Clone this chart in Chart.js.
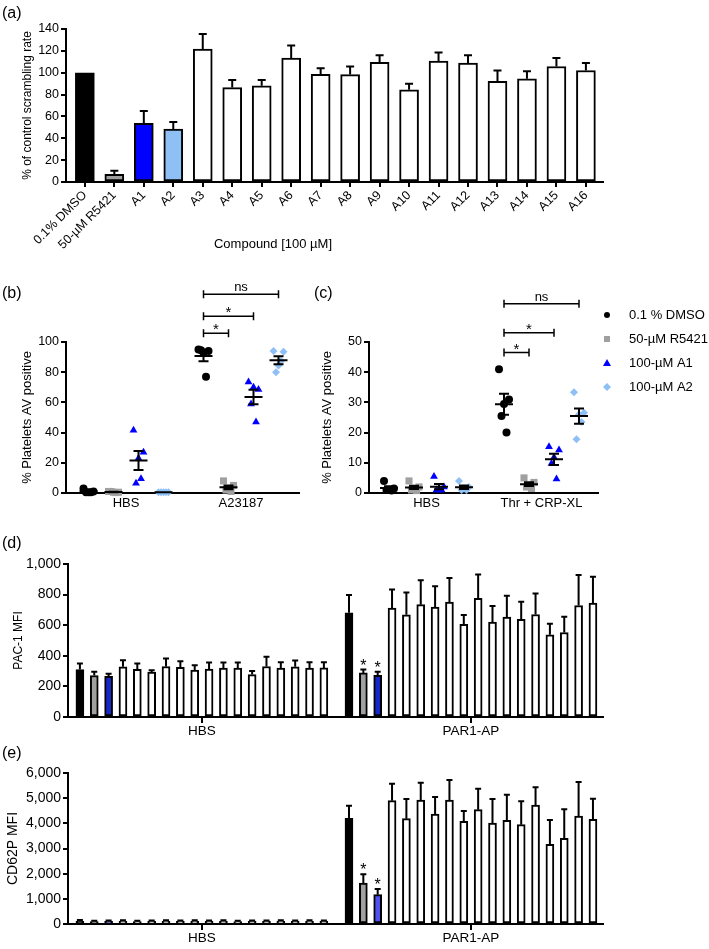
<!DOCTYPE html>
<html lang="en">
<head>
<meta charset="utf-8">
<title>Figura</title>
<script src="https://cdn.jsdelivr.net/npm/chart.js"></script>
<style>
  body { margin: 0; background: #fff; font-family: "Liberation Sans", Arial, sans-serif; }
  #figura { position: relative; width: 709px; height: 949px; overflow: hidden; }
  canvas { position: absolute; }
  .letra { position: absolute; font-size: 16px; line-height: 16px; color: #000; }
  .titulo { position: absolute; font-size: 13px; line-height: 13px; color: #000; white-space: nowrap; transform: translateX(-50%); }
</style>
</head>
<body>
<div id="figura">
  <canvas id="graficoA" width="709" height="262" style="left:0;top:0"></canvas>
  <canvas id="graficoB" width="340" height="235" style="left:0;top:280px"></canvas>
  <canvas id="graficoC" width="409" height="235" style="left:300px;top:280px"></canvas>
  <canvas id="graficoD" width="709" height="225" style="left:0;top:520px"></canvas>
  <canvas id="graficoE" width="709" height="204" style="left:0;top:745px"></canvas>
  <div class="letra" style="left:2px;top:5px">(a)</div>
  <div class="letra" style="left:2px;top:285px">(b)</div>
  <div class="letra" style="left:314px;top:285px">(c)</div>
  <div class="letra" style="left:2px;top:535px">(d)</div>
  <div class="letra" style="left:2px;top:745px">(e)</div>
  <div class="titulo" style="left:273px;top:237px">Compound [100 µM]</div>
</div>
<script>
/* Dados do painel (a) */
const compostos = ['0.1% DMSO', '50-µM R5421', 'A1', 'A2', 'A3', 'A4', 'A5', 'A6', 'A7', 'A8',
  'A9', 'A10', 'A11', 'A12', 'A13', 'A14', 'A15', 'A16'];
const taxaMedia = [100, 7, 53.6, 48.4, 121.6, 86.4, 88, 113.4, 98.6, 98.3, 109.4, 84.3, 110.6, 108.8, 92.2, 94.4, 105.7, 102];
const taxaErro = [0, 3.4, 11.4, 6.4, 13.8, 7, 5.4, 11.6, 5.4, 7.4, 6.6, 5.7, 8, 7.2, 9.8, 7, 7.7, 6.8];

/* Dados dos paineis (b) e (c): um vetor por tratamento, um sub-vetor por grupo */
const tratamentos = ['0.1 % DMSO', '50-µM R5421', '100-µM A1', '100-µM A2'];
const gruposB = ['HBS', 'A23187'];
const dmsoB = [[3, 1, 0.5, 0.5, 0.5], [95, 94, 93, 94.5, 77]];
const r5421B = [[1, 0.5, 0.5, 1, 0.3], [8, 5, 3, 2, 1]];
const a1B = [[41.5, 27, 23, 6.5, 9.5], [73.5, 68.5, 70, 59, 47]];
const a2B = [[0.5, 0.5, 0.5, 0.5, 0.5], [94, 93.5, 84.5, 80, 87.5]];

const gruposC = ['HBS', 'Thr + CRP-XL'];
const dmsoC = [[4, 1.5, 1, 1, 0.8], [41, 31, 29.5, 25.5, 20]];
const r5421C = [[4, 2, 1.5, 1, 0.8], [5, 3.5, 2.5, 2, 1.5]];
const a1C = [[5.5, 2, 1, 1, 1], [15.3, 14.2, 11.8, 9.8, 4.6]];
const a2C = [[4, 2, 1.5, 1, 1], [33.4, 26.6, 26, 17.8, 23.5]];

/* Dados dos paineis (d) e (e): DMSO, R5421, A1, A2..A16 */
const gruposBarras = ['HBS', 'PAR1-AP'];
const pac1HBS = [310, 271, 266, 328, 312, 293, 330, 325, 306, 314, 319, 319, 277, 330, 319, 328, 319, 321];
const pac1HBSErro = [39, 24, 16, 43, 37, 13, 52, 40, 32, 42, 37, 37, 24, 63, 39, 41, 39, 37];
const pac1PAR = [681, 288, 273, 712, 668, 734, 718, 751, 605, 775, 620, 653, 638, 670, 537, 552, 729, 745];
const pac1PARErro = [116, 22, 22, 122, 146, 159, 136, 157, 61, 157, 105, 140, 115, 138, 72, 103, 199, 172];
const cd62HBS = [110, 100, 105, 110, 100, 105, 110, 105, 110, 105, 110, 100, 105, 105, 110, 105, 110, 105];
const cd62HBSErro = [45, 30, 35, 35, 30, 30, 35, 30, 35, 30, 35, 30, 30, 30, 35, 30, 35, 30];
const cd62PAR = [4199, 1630, 1166, 4901, 4185, 4927, 4371, 4927, 4079, 4543, 4013, 4119, 3947, 4728, 3166, 3404, 4291, 4159];
const cd62PARErro = [503, 344, 225, 675, 782, 689, 675, 795, 411, 834, 954, 1020, 927, 702, 966, 1152, 1351, 821];
const significativos = [1, 2]; // R5421 e A1 no PAR1-AP

/* Configuração geral */
Chart.defaults.font.family = '"Liberation Sans", Arial, sans-serif';
Chart.defaults.color = '#000';
Chart.defaults.animation = false;
Chart.defaults.responsive = false;
Chart.defaults.plugins.legend.display = false;
Chart.defaults.plugins.tooltip.enabled = false;

const coresTrat = ['#000000', '#a0a0a0', '#0000ff', '#8fc0f5'];
const formasTrat = ['circle', 'rect', 'triangle', 'rectRot'];
const raiosTrat = [4, 5, 4.5, 4];
const espalha = [-0.2, 0.2, 0, -0.1, 0.1];

function eixoY(min, max, passo, largura, titulo, tamTitulo, recuo, tamFonte) {
  return {
    min: min, max: max,
    ticks: { stepSize: passo, padding: 2, font: { size: tamFonte },
      callback: v => v.toLocaleString('en-US') },
    grid: { drawOnChartArea: false, tickLength: 5, color: '#000', lineWidth: 2 },
    border: { color: '#000', width: 2 },
    title: { display: true, text: titulo, font: { size: tamTitulo }, padding: { top: recuo, bottom: 0 } },
    afterFit(escala) { escala.width = largura; }
  };
}

function eixoX(min, max, posicoes, rotulos, altura, tamFonte, rotacao, tamTick, folga) {
  return {
    type: 'linear', min: min, max: max, offset: false,
    afterBuildTicks(escala) { escala.ticks = posicoes.map(v => ({ value: v })); },
    ticks: { autoSkip: false, maxRotation: rotacao, minRotation: rotacao, padding: folga,
      font: { size: tamFonte },
      callback(v) { const k = posicoes.indexOf(v); return k >= 0 ? rotulos[k] : ''; } },
    grid: { drawOnChartArea: false, offset: false, drawTicks: tamTick > 0, tickLength: tamTick,
      color: '#000', lineWidth: 2 },
    border: { color: '#000', width: 2 },
    afterFit(escala) { escala.height = altura; }
  };
}

/* Plugin: barras de erro (só para cima) e asteriscos */
const barrasErro = {
  id: 'barrasErro',
  afterDatasetsDraw(chart, args, opcoes) {
    const ctx = chart.ctx, y = chart.scales.y;
    ctx.save();
    ctx.strokeStyle = '#000';
    ctx.fillStyle = '#000';
    ctx.lineWidth = 2;
    chart.data.datasets.forEach((ds, d) => {
      chart.getDatasetMeta(d).data.forEach((barra, i) => {
        const erro = ds.erros[i];
        if (!erro) return;
        const yErro = y.getPixelForValue(ds.data[i].y + erro);
        ctx.beginPath();
        ctx.moveTo(barra.x, barra.y);
        ctx.lineTo(barra.x, yErro);
        ctx.moveTo(barra.x - opcoes.capa, yErro);
        ctx.lineTo(barra.x + opcoes.capa, yErro);
        ctx.stroke();
        if (ds.estrelas && ds.estrelas.includes(i)) {
          ctx.font = '16px "Liberation Sans", Arial, sans-serif';
          ctx.textAlign = 'center';
          ctx.textBaseline = 'alphabetic';
          ctx.fillText('*', barra.x, yErro + 1);
        }
      });
    });
    ctx.restore();
  }
};

/* Plugin: média ± EPM e colchetes de significância */
const mediaErro = {
  id: 'mediaErro',
  afterDatasetsDraw(chart, args, opcoes) {
    const ctx = chart.ctx, x = chart.scales.x, y = chart.scales.y;
    ctx.save();
    ctx.strokeStyle = '#000';
    ctx.fillStyle = '#000';
    ctx.lineWidth = 2;
    chart.data.datasets.forEach((ds, d) => {
      ds.valores.forEach((vals, g) => {
        const n = vals.length;
        const media = vals.reduce((a, b) => a + b, 0) / n;
        const dp = Math.sqrt(vals.reduce((a, b) => a + (b - media) ** 2, 0) / (n - 1));
        const epm = dp / Math.sqrt(n);
        const px = x.getPixelForValue(opcoes.inicio[g] + d);
        const yM = y.getPixelForValue(media);
        const yA = y.getPixelForValue(media + epm);
        const yB = y.getPixelForValue(Math.max(media - epm, 0));
        ctx.beginPath();
        ctx.moveTo(px - 9, yM); ctx.lineTo(px + 9, yM);
        ctx.moveTo(px, yA); ctx.lineTo(px, yB);
        ctx.moveTo(px - 5, yA); ctx.lineTo(px + 5, yA);
        ctx.moveTo(px - 5, yB); ctx.lineTo(px + 5, yB);
        ctx.stroke();
      });
    });
    /* colchetes */
    ctx.lineWidth = 1.5;
    ctx.textAlign = 'center';
    ctx.textBaseline = 'alphabetic';
    opcoes.colchetes.forEach(c => {
      const x1 = x.getPixelForValue(opcoes.inicio[c.grupo] + c.de);
      const x2 = x.getPixelForValue(opcoes.inicio[c.grupo] + c.ate);
      const yc = y.getPixelForValue(c.nivel);
      ctx.beginPath();
      ctx.moveTo(x1, yc - 4); ctx.lineTo(x1, yc + 4);
      ctx.moveTo(x2, yc - 4); ctx.lineTo(x2, yc + 4);
      ctx.moveTo(x1, yc); ctx.lineTo(x2, yc);
      ctx.stroke();
      ctx.font = (c.texto === '*' ? '15px' : '13px') + ' "Liberation Sans", Arial, sans-serif';
      ctx.fillText(c.texto, (x1 + x2) / 2, c.texto === '*' ? yc + 1 : yc - 3);
    });
    ctx.restore();
  }
};

/* Plugin: legenda do painel (c) */
const legendaLateral = {
  id: 'legendaLateral',
  afterDraw(chart, args, opcoes) {
    const ctx = chart.ctx;
    ctx.save();
    ctx.font = '13px "Liberation Sans", Arial, sans-serif';
    ctx.textAlign = 'left';
    ctx.textBaseline = 'middle';
    chart.data.datasets.forEach((ds, d) => {
      const yl = opcoes.topo + d * opcoes.passo;
      const xl = opcoes.esquerda;
      ctx.fillStyle = ds.backgroundColor;
      ctx.beginPath();
      if (ds.pointStyle === 'circle') ctx.arc(xl, yl, 3, 0, 2 * Math.PI);
      else if (ds.pointStyle === 'rect') ctx.rect(xl - 3, yl - 3, 6, 6);
      else if (ds.pointStyle === 'triangle') { ctx.moveTo(xl, yl - 4); ctx.lineTo(xl + 4, yl + 3); ctx.lineTo(xl - 4, yl + 3); ctx.closePath(); }
      else { ctx.moveTo(xl, yl - 4); ctx.lineTo(xl + 4, yl); ctx.lineTo(xl, yl + 4); ctx.lineTo(xl - 4, yl); ctx.closePath(); }
      ctx.fill();
      ctx.fillStyle = '#000';
      ctx.fillText(tratamentos[d], xl + 22, yl);
    });
    ctx.restore();
  }
};

/* Gráfico (a) */
const posA = compostos.map((c, i) => i + 1);
const coresA = compostos.map((c, i) => i < 4 ? ['#000000', '#a0a0a0', '#0000ff', '#8fc0f5'][i] : '#ffffff');
new Chart(document.getElementById('graficoA'), {
  type: 'bar',
  data: {
    datasets: [{
      data: taxaMedia.map((v, i) => ({ x: posA[i], y: v })),
      erros: taxaErro,
      backgroundColor: coresA,
      borderColor: '#000',
      borderWidth: 2,
      borderSkipped: false,
      barThickness: 19
    }]
  },
  options: {
    layout: { padding: { top: 29, right: 106, left: 0, bottom: 0 } },
    scales: {
      x: eixoX(0.36, 18.58, posA, compostos, 80, 12.5, 45, 5, 1),
      y: eixoY(0, 140, 20, 66, '% of control scrambling rate', 12, 20, 12.5)
    },
    plugins: { barrasErro: { capa: 4 } }
  },
  plugins: [barrasErro]
});

/* Gráficos de dispersão (b) e (c) */
function montaDispersao(id, grupos, series, inicio, faixa, yMax, yPasso, largY, colchetes, extra) {
  const datasets = series.map((valores, d) => ({
    valores: valores,
    data: valores.flatMap((vals, g) => vals.map((v, k) => ({ x: inicio[g] + d + espalha[k], y: v }))),
    backgroundColor: coresTrat[d],
    borderWidth: 0,
    pointStyle: formasTrat[d],
    pointRadius: raiosTrat[d],
    clip: false
  }));
  const centros = inicio.map(p => p + 1.5);
  return new Chart(document.getElementById(id), {
    type: 'scatter',
    data: { datasets: datasets },
    options: {
      layout: { padding: faixa.padding },
      scales: {
        x: eixoX(faixa.min, faixa.max, centros, grupos, 22, 13, 0, 0, 3),
        y: eixoY(0, yMax, yPasso, largY, '% Platelets AV positive', 13, 20, 12.5)
      },
      plugins: Object.assign({ mediaErro: { inicio: inicio, colchetes: colchetes } }, extra.opcoes)
    },
    plugins: [mediaErro].concat(extra.plugins)
  });
}

montaDispersao('graficoB', gruposB, [dmsoB, r5421B, a1B, a2B], [1, 5.6],
  { min: 0.1, max: 9.42, padding: { top: 62, right: 41, left: 0, bottom: 0 } }, 100, 20, 66,
  [{ grupo: 1, de: 0, ate: 1, nivel: 105.8, texto: '*' },
   { grupo: 1, de: 0, ate: 2, nivel: 117, texto: '*' },
   { grupo: 1, de: 0, ate: 3, nivel: 131.6, texto: 'ns' }],
  { plugins: [], opcoes: {} });

montaDispersao('graficoC', gruposC, [dmsoC, r5421C, a1C, a2C], [1, 5.6],
  { min: 0.2, max: 9.36, padding: { top: 62, right: 111, left: 0, bottom: 0 } }, 50, 10, 69,
  [{ grupo: 1, de: 0, ate: 1, nivel: 46.5, texto: '*' },
   { grupo: 1, de: 0, ate: 2, nivel: 53.1, texto: '*' },
   { grupo: 1, de: 0, ate: 3, nivel: 62.7, texto: 'ns' }],
  { plugins: [legendaLateral], opcoes: { legendaLateral: { esquerda: 307, topo: 35, passo: 24 } } });

/* Gráficos de barras (d) e (e) */
const inicioBarras = [1, 19.75];
function corBarra(j, azul) {
  return ['#000000', '#a0a0a0', azul][j] || '#ffffff';
}
function montaBarras(id, mediaHBS, erroHBS, mediaPAR, erroPAR, azul, cfg) {
  const medias = [mediaHBS, mediaPAR];
  const erros = [erroHBS, erroPAR];
  const data = medias.flatMap((m, g) => m.map((v, j) => ({ x: inicioBarras[g] + j, y: v })));
  const cores = medias.flatMap(m => m.map((v, j) => corBarra(j, azul)));
  const centros = inicioBarras.map(p => p + 8.5);
  return new Chart(document.getElementById(id), {
    type: 'bar',
    data: {
      datasets: [{
        data: data,
        erros: erros.flat(),
        estrelas: significativos.map(j => j + mediaHBS.length),
        backgroundColor: cores,
        borderColor: '#000',
        borderWidth: 2,
        borderSkipped: false,
        barThickness: 8
      }]
    },
    options: {
      layout: { padding: { top: cfg.topo, right: 106, left: 0, bottom: 0 } },
      scales: {
        x: eixoX(0.17, 37.45, centros, gruposBarras, cfg.alturaX, 13.5, 0, 6, 0),
        y: eixoY(0, cfg.max, cfg.passo, 68, cfg.titulo, cfg.tamTitulo, cfg.recuo, cfg.tamFonte)
      },
      plugins: { barrasErro: { capa: 3 } }
    },
    plugins: [barrasErro]
  });
}

montaBarras('graficoD', pac1HBS, pac1HBSErro, pac1PAR, pac1PARErro, '#1428c8',
  { topo: 44, alturaX: 28, max: 1000, passo: 200, titulo: 'PAC-1 MFI', tamTitulo: 12, recuo: 11, tamFonte: 14 });
montaBarras('graficoE', cd62HBS, cd62HBSErro, cd62PAR, cd62PARErro, '#5050f0',
  { topo: 28, alturaX: 25, max: 6000, passo: 1000, titulo: 'CD62P MFI', tamTitulo: 14, recuo: 5, tamFonte: 14 });
</script>
</body>
</html>
